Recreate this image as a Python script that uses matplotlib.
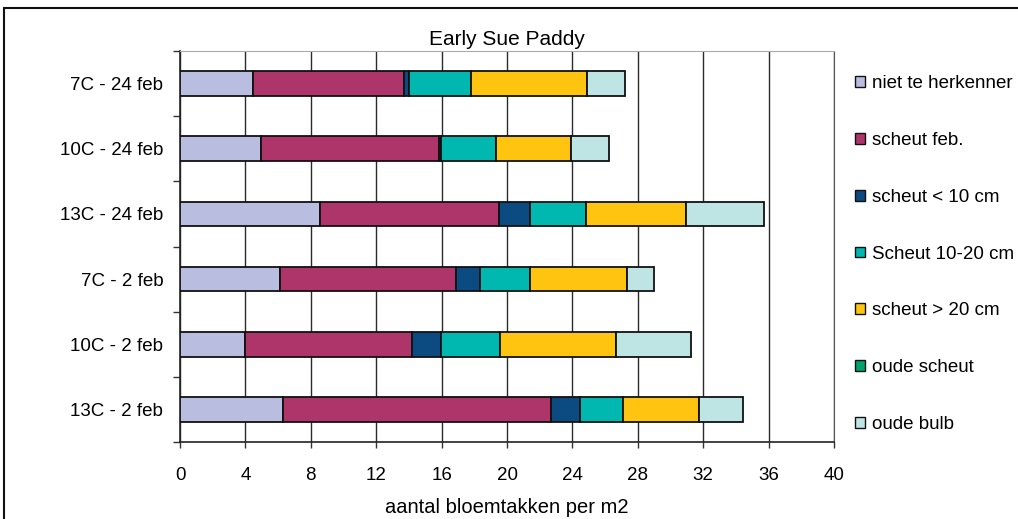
import matplotlib
matplotlib.use("Agg")
import matplotlib.pyplot as plt
import numpy as np
from matplotlib.patches import Rectangle, Patch
from matplotlib.ticker import MultipleLocator, FixedLocator

plt.rcParams['font.family'] = ['Liberation Sans', 'DejaVu Sans']

# Treatments (top to bottom)
categories = ["7C - 24 feb", "10C - 24 feb", "13C - 24 feb",
              "7C - 2 feb", "10C - 2 feb", "13C - 2 feb"]

# Flower stems per m2, per shoot class
niet_te_herkennen = [4.45, 4.93, 8.54, 6.10, 3.98, 6.30]
scheut_feb       = [9.27, 10.89, 10.96, 10.77, 10.19, 16.41]
scheut_lt10      = [0.28, 0.14, 1.93, 1.47, 1.78, 1.73]
scheut_10_20     = [3.80, 3.37, 3.43, 3.09, 3.65, 2.64]
scheut_gt20      = [7.10, 4.57, 6.10, 5.91, 7.09, 4.65]
oude_scheut      = [0.0, 0.0, 0.0, 0.0, 0.0, 0.0]
oude_bulb        = [2.34, 2.36, 4.75, 1.66, 4.56, 2.71]

series = [
    ("niet te herkenner", niet_te_herkennen, "#B9BDDF"),
    ("scheut feb.", scheut_feb, "#AD356A"),
    ("scheut < 10 cm", scheut_lt10, "#0B4B82"),
    ("Scheut 10-20 cm", scheut_10_20, "#00B8B0"),
    ("scheut > 20 cm", scheut_gt20, "#FFC40F"),
    ("oude scheut", oude_scheut, "#00A26E"),
    ("oude bulb", oude_bulb, "#BFE4E4"),
]

FS = 13.5

fig = plt.figure(figsize=(10.18, 5.19), dpi=100)
ax = fig.add_axes([180/1018, 1-442/519, 654/1018, 391/519])

y = np.arange(len(categories))[::-1].astype(float)
left = np.zeros(len(categories))
handles = []
for name, vals, col in series:
    vals = np.array(vals)
    ax.barh(y, vals, left=left, height=0.38, color=col,
            edgecolor="#111111", linewidth=1.3, zorder=3)
    left += vals
    handles.append(Patch(facecolor=col, edgecolor="#111111", linewidth=1.0, label=name))

ax.set_xlim(0, 40)
ax.set_ylim(-0.5, len(categories) - 0.5)
ax.xaxis.set_major_locator(MultipleLocator(4))
ax.grid(axis="x", color="#2a2a2a", linewidth=1.0, zorder=0)
ax.set_axisbelow(True)

ax.set_yticks(y)
ax.set_yticklabels(categories, fontsize=FS)
ax.yaxis.set_minor_locator(FixedLocator(np.arange(-0.5, len(categories), 1.0)))
ax.tick_params(axis="y", which="major", length=0, pad=12)
ax.tick_params(axis="y", which="minor", length=5, width=1.0, color="#333333")
ax.tick_params(axis="x", which="major", length=4.5, width=1.0, color="#333333",
               labelsize=FS, pad=13.5)

for s in ["left", "bottom"]:
    ax.spines[s].set_color("#222222")
    ax.spines[s].set_linewidth(1.2)
ax.spines["top"].set_color("#AAAAAA")
ax.spines["right"].set_color("#555555")

ax.set_title("Early Sue Paddy", fontsize=15, pad=4)
ax.set_xlabel("aantal bloemtakken per m2", fontsize=14.5, labelpad=10)

leg = fig.legend(handles=handles, loc="upper left",
                 bbox_to_anchor=(846/1018, 1-66/519), frameon=False,
                 fontsize=FS, handlelength=0.5, handleheight=0.5,
                 handletextpad=0.4, labelspacing=2.12, borderpad=0)

# outer chart frame
fig.add_artist(Rectangle((4/1018, -0.1), 1.2, 1-8/519+0.1, transform=fig.transFigure,
                         fill=False, edgecolor="#111111", linewidth=1.5))

fig.savefig("out.png", dpi=100)
